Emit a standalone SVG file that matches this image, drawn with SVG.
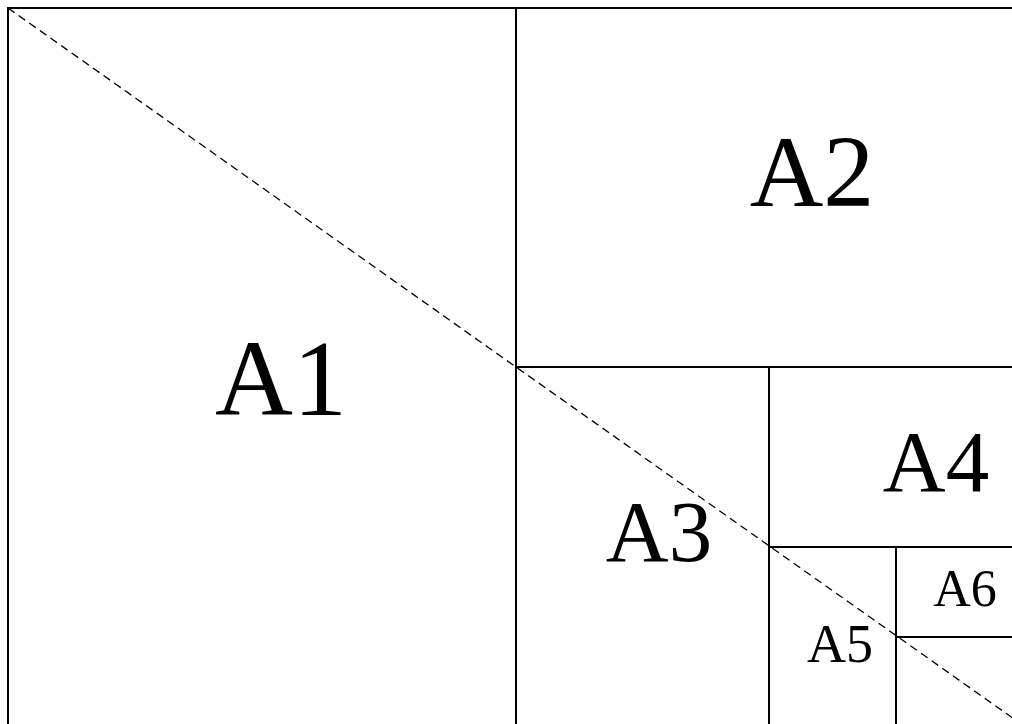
<svg xmlns="http://www.w3.org/2000/svg" width="1012" height="724" viewBox="0 0 1012 724">
<style>
.cell{fill:none;stroke:#000;stroke-width:2}
.lbl{font-family:"Liberation Serif","Times New Roman",serif;fill:#000;text-anchor:middle}
.diag{stroke:#000;stroke-width:1.3;stroke-dasharray:8,5;fill:none}
</style>
<rect x="0" y="0" width="1012" height="724" fill="#fff"/>
<g id="A1"><rect class="cell" x="8" y="8" width="508" height="718"/><text class="lbl" x="281" y="415" font-size="108">A1</text></g>
<g id="A2"><rect class="cell" x="516" y="8" width="508" height="359"/><text class="lbl" x="812" y="206" font-size="102">A2</text></g>
<g id="A3"><rect class="cell" x="516" y="367" width="253" height="359"/><text class="lbl" x="659" y="561" font-size="87">A3</text></g>
<g id="A4"><rect class="cell" x="769" y="367" width="255" height="180"/><text class="lbl" x="936" y="491" font-size="87">A4</text></g>
<g id="A5"><rect class="cell" x="769" y="547" width="127" height="179"/><text class="lbl" x="840" y="662" font-size="54">A5</text></g>
<g id="A6"><rect class="cell" x="896" y="547" width="128" height="90"/><text class="lbl" x="965" y="606" font-size="52">A6</text></g>
<g id="connectors"><line class="diag" x1="8" y1="8" x2="1024" y2="726"/></g>
</svg>
